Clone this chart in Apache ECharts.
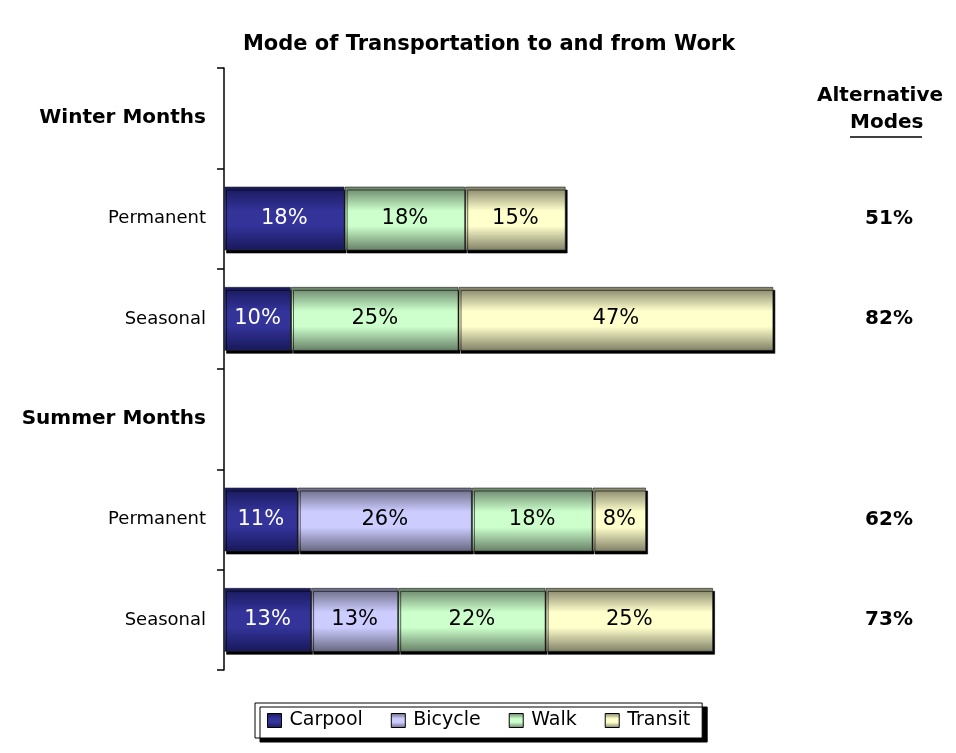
<!DOCTYPE html>
<html>
<head>
<meta charset="utf-8">
<script src="https://cdn.jsdelivr.net/npm/echarts@6/dist/echarts.min.js"></script>
<style>
  html, body { margin: 0; padding: 0; background: #fff; }
  #chart { width: 956px; height: 753px; }
</style>
</head>
<body>
<div id="chart"></div>
<script>
// rows top to bottom; header rows carry no bars
const categories = ["Winter Months", "Permanent", "Seasonal", "Summer Months", "Permanent", "Seasonal"];
const headerRows = [0, 3];
const carpool = [null, 18, 10, null, 11, 13];
const bicycle = [null, null, null, null, 26, 13];
const walk = [null, 18, 25, null, 18, 22];
const transit = [null, 15, 47, null, 8, 25];
// "Alternative Modes" column as printed on the chart
const altModes = [null, 51, 82, null, 62, 73];

const FONT = "DejaVu Sans";

function shade(dark, light) {
  return new echarts.graphic.LinearGradient(0, 0, 0, 1, [
    { offset: 0, color: dark },
    { offset: 0.38, color: light },
    { offset: 0.62, color: light },
    { offset: 1, color: dark },
  ]);
}

const seriesDefs = [
  { name: "Carpool", data: carpool, dark: "#18185a", light: "#333399", text: "#fff" },
  { name: "Bicycle", data: bicycle, dark: "#66667f", light: "#ccccff", text: "#000" },
  { name: "Walk", data: walk, dark: "#667f66", light: "#ccffcc", text: "#000" },
  { name: "Transit", data: transit, dark: "#7f7f66", light: "#ffffcc", text: "#000" },
];

const series = seriesDefs.map((s) => {
  return {
    name: s.name,
    type: "bar",
    stack: "total",
    barWidth: 64,
    data: s.data,
    itemStyle: {
      color: shade(s.dark, s.light),
      borderColor: "rgba(40,40,40,0.6)",
      borderWidth: 1,
      shadowColor: "#000",
      shadowBlur: 0,
      shadowOffsetX: 2,
      shadowOffsetY: 3,
    },
    label: {
      show: true,
      position: "inside",
      color: s.text,
      fontFamily: FONT,
      fontSize: 21,
      formatter: (p) => p.value + "%",
    },
  };
});

const chart = echarts.init(document.getElementById("chart"));
chart.setOption({
  animation: false,
  title: {
    text: "Mode of Transportation to and from Work",
    left: 484,
    top: 29,
    textAlign: "center",
    textStyle: { fontFamily: FONT, fontSize: 21, fontWeight: "bold", color: "#000" },
  },
  legend: {
    bottom: 15,
    left: 255,
    itemWidth: 14,
    itemHeight: 14,
    itemGap: 28,
    padding: [8, 12, 8, 12],
    backgroundColor: "#fff",
    borderColor: "#000",
    borderWidth: 1,
    shadowColor: "#000",
    shadowBlur: 0,
    shadowOffsetX: 5,
    shadowOffsetY: 4,
    itemStyle: { borderColor: "#000", borderWidth: 1 },
    textStyle: { fontFamily: FONT, fontSize: 19, color: "#000", padding: [0, 0, 0, 3] },
    data: seriesDefs.map((s) => ({ name: s.name, icon: "rect" })),
  },
  grid: { left: 224, top: 68, width: 670, height: 602 },
  xAxis: { type: "value", min: 0, max: 100, show: false },
  yAxis: [
    {
      type: "category",
      inverse: true,
      data: categories,
      axisLine: { show: true, lineStyle: { color: "#000", width: 1.5 } },
      axisTick: { show: true, length: 7, lineStyle: { color: "#000", width: 1.5 } },
      axisLabel: {
        margin: 18,
        fontFamily: FONT,
        fontSize: 18,
        color: "#000",
        formatter: (v, i) => (headerRows.includes(i) ? "{h|" + v + "}" : v),
        rich: { h: { fontFamily: FONT, fontSize: 20, fontWeight: "bold", color: "#000" } },
      },
    },
    {
      type: "category",
      inverse: true,
      position: "right",
      data: altModes.map((v) => (v == null ? "" : v + "%")),
      axisLine: { show: false },
      axisTick: { show: false },
      axisLabel: {
        align: "center",
        margin: -5,
        fontFamily: FONT,
        fontSize: 20,
        fontWeight: "bold",
        color: "#000",
      },
    },
  ],
  graphic: [
    {
      type: "text",
      left: 817,
      top: 86,
      style: { text: "Alternative", fontFamily: FONT, fontSize: 20, fontWeight: "bold", fill: "#000" },
    },
    {
      type: "text",
      left: 850,
      top: 113,
      style: { text: "Modes", fontFamily: FONT, fontSize: 20, fontWeight: "bold", fill: "#000" },
    },
    {
      type: "line",
      shape: { x1: 850, y1: 137, x2: 922, y2: 137 },
      style: { stroke: "#000", lineWidth: 1.5 },
    },
  ],
  series: series,
});
</script>
</body>
</html>
